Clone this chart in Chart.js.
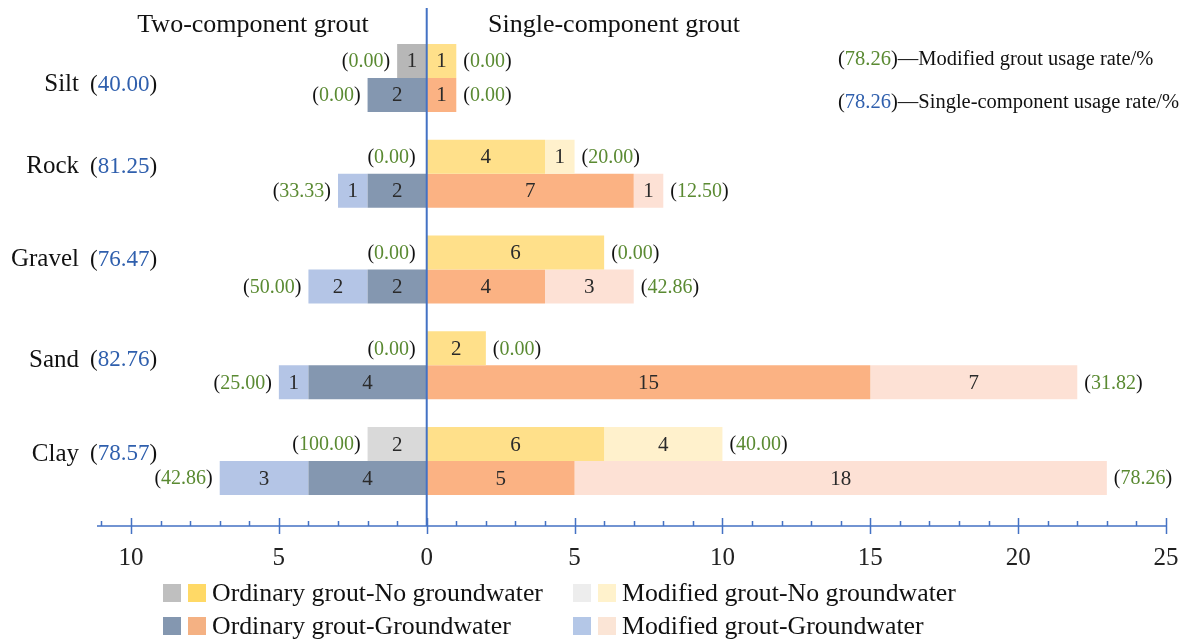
<!DOCTYPE html>
<html><head><meta charset="utf-8">
<script src="https://cdn.jsdelivr.net/npm/chart.js@4"></script>
<style>html,body{margin:0;padding:0;background:#fff}</style>
</head><body>
<canvas id="c" width="1189" height="639"></canvas>
<script>
// ---- data ----
const categories = ['Silt', 'Rock', 'Gravel', 'Sand', 'Clay'];
// two-component grout (drawn to the left)
const twoOrdNoGw = [1, 0, 0, 0, 0];
const twoModNoGw = [0, 0, 0, 0, 2];
const twoOrdGw   = [2, 2, 2, 4, 4];
const twoModGw   = [0, 1, 2, 1, 3];
// single-component grout (drawn to the right)
const oneOrdNoGw = [1, 4, 6, 2, 6];
const oneModNoGw = [0, 1, 0, 0, 4];
const oneOrdGw   = [1, 7, 4, 15, 5];
const oneModGw   = [0, 1, 3, 7, 18];
// modified grout usage rate / %
const rateTwoNoGw = ['0.00', '0.00', '0.00', '0.00', '100.00'];
const rateOneNoGw = ['0.00', '20.00', '0.00', '0.00', '40.00'];
const rateTwoGw   = ['0.00', '33.33', '50.00', '25.00', '42.86'];
const rateOneGw   = ['0.00', '12.50', '42.86', '31.82', '78.26'];
// single-component usage rate / %
const singleRate  = ['40.00', '81.25', '76.47', '82.76', '78.57'];
const xTickValues = [-10, -5, 0, 5, 10, 15, 20, 25];
const xMin = -11.15, xMax = 25;

const SERIF = '"Liberation Serif", "Times New Roman", serif';
const GREEN = '#5a8a32', BLUE = '#2f5fad', AXIS = '#4472c4';
const neg = a => a.map(v => -v);

const COLORS = {
  twoOrdNoGw: '#b7b7b7', twoModNoGw: '#d9d9d9',
  oneOrdNoGw: '#ffe08a', oneModNoGw: '#fff1cc',
  twoOrdGw: '#8497b0', twoModGw: '#b4c5e6',
  oneOrdGw: '#fbb283', oneModGw: '#fde1d5'
};

const datasets = [
  {label: 'twoOrdNoGw', data: neg(twoOrdNoGw), stack: 'ng', backgroundColor: COLORS.twoOrdNoGw},
  {label: 'twoModNoGw', data: neg(twoModNoGw), stack: 'ng', backgroundColor: COLORS.twoModNoGw},
  {label: 'oneOrdNoGw', data: oneOrdNoGw, stack: 'ng', backgroundColor: COLORS.oneOrdNoGw},
  {label: 'oneModNoGw', data: oneModNoGw, stack: 'ng', backgroundColor: COLORS.oneModNoGw},
  {label: 'twoOrdGw', data: neg(twoOrdGw), stack: 'gw', backgroundColor: COLORS.twoOrdGw},
  {label: 'twoModGw', data: neg(twoModGw), stack: 'gw', backgroundColor: COLORS.twoModGw},
  {label: 'oneOrdGw', data: oneOrdGw, stack: 'gw', backgroundColor: COLORS.oneOrdGw},
  {label: 'oneModGw', data: oneModGw, stack: 'gw', backgroundColor: COLORS.oneModGw}
];
datasets.forEach(d => { d.borderWidth = 0; d.categoryPercentage = 0.71; d.barPercentage = 1.0; });

function drawParts(ctx, parts, x, y, align) {
  let total = 0;
  parts.forEach(p => total += ctx.measureText(p[0]).width);
  let cx = align === 'right' ? x - total : x;
  ctx.textAlign = 'left';
  parts.forEach(p => { ctx.fillStyle = p[1]; ctx.fillText(p[0], cx, y); cx += ctx.measureText(p[0]).width; });
}

const overlay = {
  id: 'overlay',
  afterDatasetsDraw(chart) {
    const ctx = chart.ctx, xs = chart.scales.x, ys = chart.scales.y;
    ctx.save();
    // values inside bars
    ctx.font = '21px ' + SERIF;
    ctx.textBaseline = 'middle';
    ctx.textAlign = 'center';
    chart.data.datasets.forEach((ds, di) => {
      const meta = chart.getDatasetMeta(di);
      meta.data.forEach((el, i) => {
        const v = ds.data[i];
        if (!v) return;
        ctx.fillStyle = '#2a2a2a';
        ctx.fillText(String(Math.abs(v)), (el.x + el.base) / 2, el.y + 1);
      });
    });
    // rates at bar ends
    ctx.font = '20px ' + SERIF;
    const rows = [
      {meta: chart.getDatasetMeta(0), l1: twoOrdNoGw, l2: twoModNoGw, r1: oneOrdNoGw, r2: oneModNoGw, lr: rateTwoNoGw, rr: rateOneNoGw},
      {meta: chart.getDatasetMeta(4), l1: twoOrdGw, l2: twoModGw, r1: oneOrdGw, r2: oneModGw, lr: rateTwoGw, rr: rateOneGw}
    ];
    rows.forEach(r => {
      categories.forEach((c, i) => {
        const y = r.meta.data[i].y + 1;
        const xl = xs.getPixelForValue(-(r.l1[i] + r.l2[i]));
        const xr = xs.getPixelForValue(r.r1[i] + r.r2[i]);
        drawParts(ctx, [['(', '#111'], [r.lr[i], GREEN], [')', '#111']], xl - (r.l1[i] + r.l2[i] ? 7 : 11), y, 'right');
        drawParts(ctx, [['(', '#111'], [r.rr[i], GREEN], [')', '#111']], xr + 7, y, 'left');
      });
    });
    // zero line
    const x0 = xs.getPixelForValue(0);
    const axisY = chart.chartArea.bottom + 17;
    ctx.strokeStyle = AXIS;
    ctx.lineWidth = 2;
    ctx.beginPath(); ctx.moveTo(x0, 8); ctx.lineTo(x0, axisY); ctx.stroke();
    // x axis line and ticks
    ctx.lineWidth = 1.5;
    ctx.beginPath();
    ctx.moveTo(xs.getPixelForValue(xMin), axisY); ctx.lineTo(xs.getPixelForValue(xMax), axisY);
    for (let v = Math.ceil(xMin); v <= xMax; v++) {
      const px = Math.round(xs.getPixelForValue(v)) + 0.5;
      if (v % 5 === 0) { ctx.moveTo(px, axisY - 8); ctx.lineTo(px, axisY + 8); }
      else { ctx.moveTo(px, axisY - 5); ctx.lineTo(px, axisY); }
    }
    ctx.stroke();
    // category labels + single-component rate
    const labelShift = [7, -7, -10, -5, -7];
    categories.forEach((c, i) => {
      const y = ys.getPixelForValue(i) + labelShift[i];
      ctx.font = '25px ' + SERIF;
      ctx.fillStyle = '#111';
      ctx.textAlign = 'right';
      ctx.fillText(c, 79, y);
      ctx.font = '23px ' + SERIF;
      drawParts(ctx, [['(', '#111'], [singleRate[i], BLUE], [')', '#111']], 90, y, 'left');
    });
    // titles
    ctx.font = '26px ' + SERIF;
    ctx.fillStyle = '#111';
    ctx.textAlign = 'center';
    ctx.fillText('Two-component grout', 253, 25);
    ctx.fillText('Single-component grout', 614, 25);
    // notes
    ctx.font = '20.5px ' + SERIF;
    drawParts(ctx, [['(', '#111'], ['78.26', GREEN], [')\u2014Modified grout usage rate/%', '#111']], 838, 60, 'left');
    drawParts(ctx, [['(', '#111'], ['78.26', BLUE], [')\u2014Single-component usage rate/%', '#111']], 838, 103, 'left');
    // legend
    const leg = [
      {x: 163, y: 593, c: ['#bfbfbf', '#ffd966'], t: 'Ordinary grout-No groundwater'},
      {x: 573, y: 593, c: ['#ededed', '#fff2cc'], t: 'Modified grout-No groundwater'},
      {x: 163, y: 626, c: ['#8497b0', '#f4b183'], t: 'Ordinary grout-Groundwater'},
      {x: 573, y: 626, c: ['#b4c7e7', '#fbe5d6'], t: 'Modified grout-Groundwater'}
    ];
    ctx.font = '25.8px ' + SERIF;
    leg.forEach(L => {
      ctx.fillStyle = L.c[0]; ctx.fillRect(L.x, L.y - 9, 18, 18);
      ctx.fillStyle = L.c[1]; ctx.fillRect(L.x + 25, L.y - 9, 18, 18);
      ctx.fillStyle = '#111'; ctx.textAlign = 'left';
      ctx.fillText(L.t, L.x + 49, L.y + 1);
    });
    ctx.restore();
  }
};

new Chart(document.getElementById('c'), {
  type: 'bar',
  data: {labels: categories, datasets: datasets},
  options: {
    indexAxis: 'y',
    responsive: false,
    animation: false,
    devicePixelRatio: 1,
    layout: {padding: {left: 97, right: 23, top: 30, bottom: 66}},
    plugins: {legend: {display: false}, tooltip: {enabled: false}},
    scales: {
      x: {
        type: 'linear', min: xMin, max: xMax, stacked: true,
        grid: {display: false, drawTicks: false}, border: {display: false},
        afterBuildTicks: s => { s.ticks = xTickValues.map(v => ({value: v})); },
        afterFit: s => { s.height = 64; s.paddingLeft = 0; s.paddingRight = 0; },
        ticks: {
          autoSkip: false, maxRotation: 0, padding: 34,
          color: '#222', font: {family: SERIF, size: 25},
          callback: v => String(Math.abs(v))
        }
      },
      y: {type: 'category', display: false, offset: true}
    }
  },
  plugins: [overlay]
});
</script>
</body></html>
